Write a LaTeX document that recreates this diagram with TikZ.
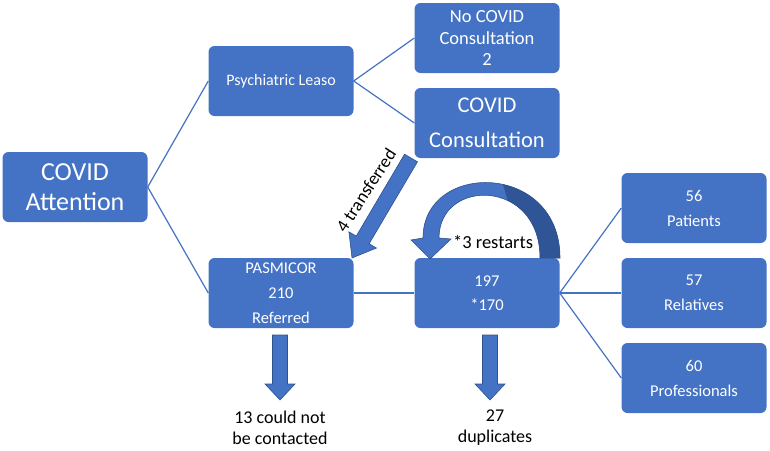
\documentclass[tikz,border=0pt]{standalone}
\usepackage{fontspec}
\setmainfont{Carlito}
\usetikzlibrary{calc}
\definecolor{boxblue}{HTML}{4472C4}
\definecolor{darkblue}{HTML}{2F5597}
\definecolor{edgeblue}{HTML}{2F528F}
\begin{document}
\begin{tikzpicture}[x=1pt,y=-1pt,
  box/.style={fill=boxblue, text=white, rounded corners=6pt, minimum width=145pt,
    minimum height=70pt, inner sep=0pt, align=center},
  link/.style={draw=boxblue, line width=1.2pt},
  blockarrow/.style={fill=boxblue, draw=edgeblue, line width=0.6pt},
  lbl/.style={text=black, align=center, inner sep=0pt}]
\useasboundingbox (0,0) rectangle (770,450);
% boxes
\node[box, font=\fontsize{26}{30}\selectfont] (att) at (75,187) {COVID\\Attention};
\node[box, font=\fontsize{16}{20}\selectfont] (psy) at (281,81) {Psychiatric Leaso};
\node[box, font=\fontsize{18.5}{21.5}\selectfont] (nocov) at (487,38) {No COVID\\Consultation\\2};
\node[box, font=\fontsize{22.5}{35}\selectfont] (cov) at (487,123) {COVID\\Consultation};
\node[box, font=\fontsize{16.5}{25}\selectfont] (pas) at (281,293) {PASMICOR\\210\\Referred};
\node[box, font=\fontsize{16.5}{24}\selectfont] (num) at (487,293) {197\\*170};
\node[box, font=\fontsize{16.5}{25}\selectfont] (pat) at (694,208) {56\\Patients};
\node[box, font=\fontsize{16.5}{25}\selectfont] (rel) at (694,293) {57\\Relatives};
\node[box, font=\fontsize{16.5}{25}\selectfont] (pro) at (694,378) {60\\Professionals};
% connectors
\draw[link] (psy.west) -- (att.east) -- (pas.west);
\draw[link] (nocov.west) -- (psy.east) -- (cov.west);
\draw[link] (pas.east) -- (num.west);
\draw[link] (pat.west) -- (num.east) -- (pro.west);
\draw[link] (num.east) -- (rel.west);
% transferred block arrow
\coordinate (t1) at (411,158);
\coordinate (t2) at (352,258);
\coordinate (h) at ($(t2)!21pt!(t1)$);
\draw[blockarrow] ($(t1)!7.5pt!90:(t2)$) -- ($(h)!7.5pt!-90:(t1)$) -- ($(h)!16pt!-90:(t1)$) -- (t2)
  -- ($(h)!16pt!90:(t1)$) -- ($(h)!7.5pt!90:(t1)$) -- ($(t1)!7.5pt!-90:(t2)$) -- cycle;
\node[lbl, rotate=57, font=\fontsize{18}{20}\selectfont] (trl) at (366,190) {4 transferred};
% restarts curved arrow
\coordinate (b1) at (560,258);
\coordinate (b2) at (540,258);
\coordinate (n2) at (439,238);
\coordinate (w2) at (451,239);
\coordinate (tip) at (430,259);
\coordinate (w1) at (411,240);
\coordinate (n1) at (423,238);
\begin{scope}
\clip (b1) -- (b2) .. controls (540,178) and (439,178) .. (n2) -- (w2) -- (tip) -- (w1) -- (n1)
  .. controls (423,161) and (560,161) .. (b1) -- cycle;
\fill[boxblue] (400,140) rectangle (570,270);
\fill[darkblue] (490,140) -- (570,140) -- (570,270) -- (528,270) -- cycle;
\end{scope}
\draw[edgeblue, line width=0.6pt] (b1) -- (b2) .. controls (540,178) and (439,178) .. (n2) -- (w2) -- (tip) -- (w1) -- (n1)
  .. controls (423,161) and (560,161) .. (b1) -- cycle;
\node[lbl, font=\fontsize{18.5}{20}\selectfont] (rst) at (493,242) {*3 restarts};
% down arrows
\foreach \cx/\nm in {280/da, 490/db}{
  \draw[blockarrow] (\cx-7.5,335) -- (\cx+7.5,335) -- (\cx+7.5,384) -- (\cx+15,384)
    -- (\cx,400) -- (\cx-15,384) -- (\cx-7.5,384) -- cycle;
}
\node[lbl, font=\fontsize{18}{21}\selectfont] (nc) at (280,428) {13 could not\\be contacted};
\node[lbl, font=\fontsize{18}{21}\selectfont] (dup) at (495,428) {27\\duplicates};
\end{tikzpicture}
\end{document}
